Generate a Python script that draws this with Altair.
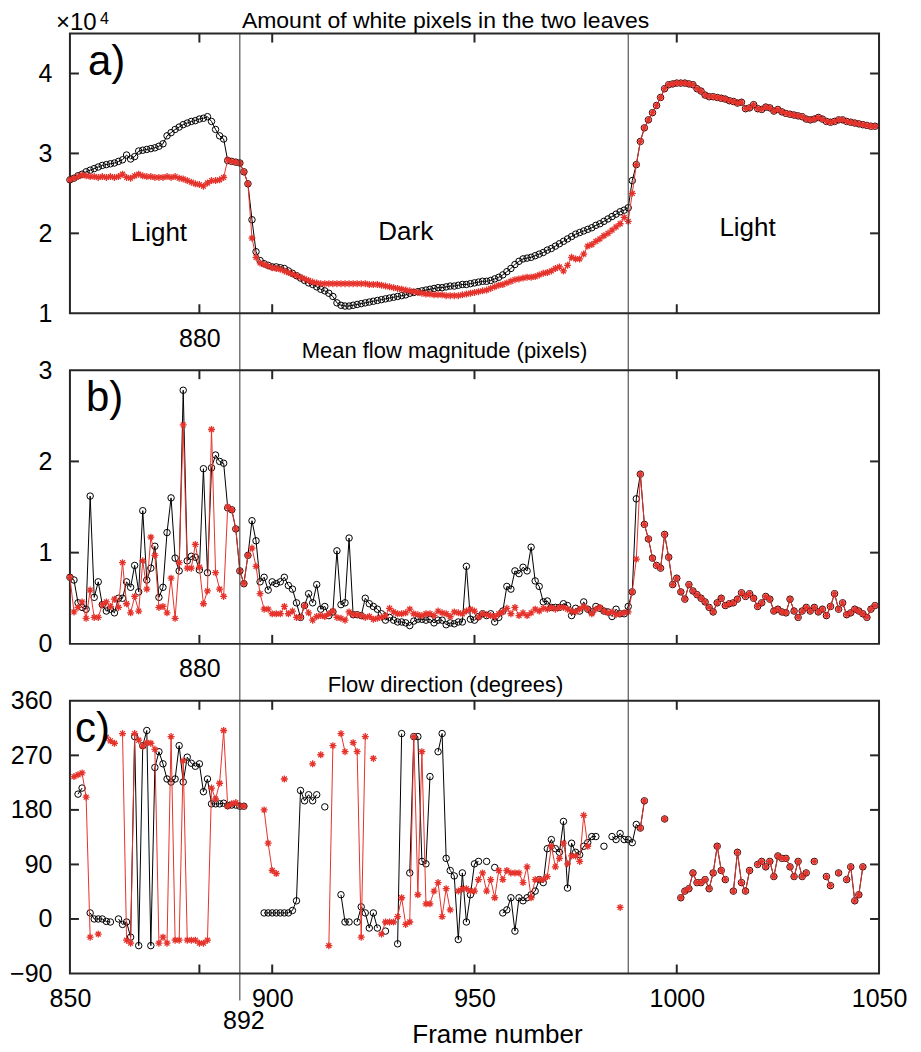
import altair as alt
import pandas as pd

N = None
FRAMES = list(range(850, 1050))

# ---------- panel a (x 10^4 white pixels), frames 850..992 then shared 993..1049
A_BLACK = [2.67, 2.69, 2.72, 2.74, 2.77, 2.79, 2.81, 2.83, 2.85, 2.86,
           2.87, 2.88, 2.90, 2.92, 2.98, 2.93, 2.96, 3.03, 3.04, 3.05,
           3.06, 3.07, 3.09, 3.12, 3.22, 3.26, 3.30, 3.33, 3.36, 3.38,
           3.40, 3.41, 3.43, 3.44, 3.46, 3.40, 3.30, 3.22, 3.18, 2.91,
           2.90, 2.89, 2.88,
           2.77, 2.62, 2.17, 1.77, 1.66, 1.62, 1.60, 1.58, 1.58, 1.57,
           1.56, 1.53, 1.50, 1.47, 1.44, 1.41, 1.38, 1.36, 1.33, 1.30,
           1.28, 1.25, 1.21, 1.13, 1.10, 1.09, 1.09, 1.10, 1.11, 1.12,
           1.13, 1.14, 1.15, 1.16, 1.17, 1.18, 1.19, 1.20, 1.21, 1.22,
           1.23, 1.25, 1.26, 1.27, 1.28, 1.29, 1.30, 1.31, 1.32, 1.32,
           1.33, 1.34, 1.34, 1.35, 1.36, 1.36, 1.37, 1.38, 1.39, 1.40,
           1.40, 1.41, 1.43, 1.45, 1.48, 1.52, 1.56, 1.61, 1.65, 1.68,
           1.69, 1.70, 1.72, 1.74, 1.76, 1.79, 1.81, 1.84, 1.87, 1.90,
           1.93, 1.96, 1.99, 2.01, 2.03, 2.05, 2.07, 2.10, 2.12, 2.15,
           2.18, 2.21, 2.24, 2.27, 2.29, 2.32, 2.66, 2.86, 3.15, 3.32]
A_RED = [2.67, 2.69, 2.71, 2.73, 2.72, 2.71, 2.71, 2.70, 2.71, 2.70,
         2.71, 2.70, 2.71, 2.74, 2.70, 2.69, 2.72, 2.74, 2.72, 2.71,
         2.71, 2.70, 2.70, 2.70, 2.71, 2.70, 2.71, 2.69, 2.68, 2.66,
         2.64, 2.62, 2.61, 2.59, 2.63, 2.66, 2.66, 2.67, 2.70, 2.92,
         2.90, 2.89, 2.88,
         2.77, 2.62, 1.94, 1.70, 1.63, 1.61, 1.59, 1.57, 1.56, 1.55,
         1.53, 1.51, 1.49, 1.47, 1.45, 1.43, 1.41, 1.39, 1.38, 1.37,
         1.37, 1.37, 1.37, 1.37, 1.37, 1.37, 1.37, 1.37, 1.37, 1.37,
         1.37, 1.36, 1.36, 1.36, 1.35, 1.34, 1.33, 1.32, 1.31, 1.30,
         1.29, 1.28, 1.27, 1.26, 1.25, 1.24, 1.24, 1.23, 1.23, 1.23,
         1.22, 1.22, 1.22, 1.22, 1.23, 1.24, 1.25, 1.26, 1.27, 1.28,
         1.29, 1.31, 1.33, 1.35, 1.36, 1.38, 1.40, 1.42, 1.43, 1.44,
         1.45, 1.45, 1.46, 1.48, 1.50, 1.51, 1.53, 1.56, 1.58, 1.53,
         1.60, 1.70, 1.68, 1.68, 1.74, 1.84, 1.86, 1.90, 1.93, 1.97,
         2.00, 2.04, 2.08, 2.12, 2.20, 2.15, 2.50, 2.86, 3.15, 3.32]
A_SHARED = [3.42, 3.51, 3.60, 3.70, 3.81, 3.86, 3.87, 3.88, 3.88, 3.88,
            3.87, 3.86, 3.81, 3.78, 3.73, 3.71, 3.71, 3.70, 3.69, 3.68,
            3.66, 3.65, 3.63, 3.64, 3.56, 3.57, 3.61, 3.56, 3.55, 3.58,
            3.57, 3.53, 3.55, 3.52, 3.50, 3.49, 3.48, 3.47, 3.46, 3.43,
            3.42, 3.43, 3.45, 3.43, 3.40, 3.39, 3.40, 3.42, 3.42, 3.40,
            3.39, 3.38, 3.37, 3.36, 3.35, 3.34, 3.34]

# ---------- panel b (mean flow magnitude)
B_BLACK = [0.73, 0.70, 0.45, 0.40, 0.38, 1.62, 0.51, 0.68, 0.43, 0.36,
           0.38, 0.34, 0.50, 0.50, 0.68, 0.62, 0.86, 0.57, 1.46, 0.70,
           0.83, 1.07, 0.51, 0.62, 1.22, 1.60, 0.94, 0.80, 2.78, 0.91,
           0.96, 0.95, 0.81, 1.92, 0.78, 1.93, 2.07, 2.00, 1.98, 1.49,
           1.47, 1.26, 0.80, 0.66, 0.97, 1.35, 1.13, 0.68, 0.73, 0.59,
           0.68, 0.66, 0.68, 0.73, 0.64, 0.60, 0.45, 0.29, 0.42, 0.55,
           0.45, 0.65, 0.38, 0.41, 0.31, 0.35, 1.02, 0.43, 0.45, 1.16,
           0.32, 0.32, 0.31, 0.50, 0.44, 0.41, 0.38, 0.33, 0.26, 0.29,
           0.26, 0.24, 0.24, 0.23, 0.20, 0.25, 0.27, 0.27, 0.26, 0.27,
           0.23, 0.26, 0.26, 0.21, 0.23, 0.22, 0.24, 0.24, 0.85, 0.27,
           0.26, 0.30, 0.33, 0.31, 0.33, 0.24, 0.29, 0.36, 0.63, 0.60,
           0.80, 0.77, 0.84, 0.80, 1.06, 0.69, 0.63, 0.46, 0.47, 0.40,
           0.40, 0.40, 0.44, 0.42, 0.31, 0.39, 0.36, 0.46, 0.38, 0.35,
           0.41, 0.39, 0.36, 0.35, 0.30, 0.38, 0.33, 0.33, 0.41, 0.57,
           1.59, 1.86, 1.31]
B_RED = [0.73, 0.35, 0.40, 0.46, 0.28, 0.59, 0.29, 0.29, 0.43, 0.46,
         0.41, 0.49, 0.40, 0.89, 0.44, 0.34, 0.52, 0.36, 0.91, 0.60,
         1.17, 0.97, 0.40, 0.41, 0.34, 0.72, 0.28, 0.89, 2.40, 0.83,
         0.83, 1.09, 0.84, 0.44, 0.58, 2.35, 0.78, 0.60, 0.52, 1.50,
         1.47, 1.26, 0.80, 0.66, 0.97, 1.05, 0.85, 0.55, 0.38, 0.38,
         0.33, 0.33, 0.33, 0.41, 0.33, 0.36, 0.29, 0.29, 0.42, 0.34,
         0.26, 0.30, 0.31, 0.30, 0.33, 0.36, 0.29, 0.28, 0.26, 0.35,
         0.32, 0.32, 0.31, 0.29, 0.30, 0.27, 0.28, 0.29, 0.31, 0.39,
         0.35, 0.33, 0.33, 0.34, 0.38, 0.33, 0.32, 0.31, 0.33, 0.33,
         0.31, 0.36, 0.34, 0.33, 0.30, 0.35, 0.34, 0.33, 0.36, 0.38,
         0.36, 0.29, 0.33, 0.32, 0.31, 0.30, 0.33, 0.35, 0.39, 0.33,
         0.40, 0.31, 0.34, 0.31, 0.34, 0.38, 0.36, 0.39, 0.38, 0.40,
         0.38, 0.40, 0.40, 0.38, 0.36, 0.35, 0.38, 0.41, 0.38, 0.33,
         0.38, 0.40, 0.36, 0.34, 0.35, 0.32, 0.33, 0.34, 0.35, 0.57,
         0.93, 1.86, 1.31]
B_SHARED = [1.15, 0.94, 0.86, 0.83, 1.20, 0.95, 0.65, 0.72, 0.57, 0.49,
            0.65, 0.58, 0.54, 0.50, 0.46, 0.40, 0.35, 0.45, 0.50, 0.42,
            0.44, 0.45, 0.49, 0.56, 0.52, 0.55, 0.50, 0.41, 0.45, 0.52,
            0.49, 0.36, 0.38, 0.35, 0.34, 0.49, 0.36, 0.29, 0.36, 0.40,
            0.36, 0.40, 0.35, 0.38, 0.31, 0.41, 0.55, 0.38, 0.45, 0.32,
            0.34, 0.38, 0.36, 0.33, 0.29, 0.38, 0.42]

# ---------- panel c (flow direction, degrees), N = missing
C_BLACK = [N, N, 206, 216, N, 10, 0, 0, 0, -4,
           -5, N, 0, -9, -5, -30, 301, -44, 286, 311,
           -44, 250, 276, 256, 231, 226, 231, 286, 226, 267,
           257, 252, 256, 210, 231, 190, 190, 190, 191, 187,
           188, 188, 186, 186, N, N, N, N, 10, 10,
           10, 10, 10, 10, 10, 14, 30, 212, 195, 205,
           195, 205, N, 185, N, N, N, 40, -5, -5,
           N, -5, 20, 10, -15, 10, -15, N, -20, N,
           N, -41, 306, N, 76, 301, 301, 95, 91, 235,
           N, 276, 306, 100, 80, 71, -34, 76, -5, 40,
           91, 95, N, 95, N, 85, N, 10, 15, 35,
           -20, 35, 30, 35, 40, 46, 65, 60, 116, 131,
           116, 110, 161, 51, 125, 110, 106, 120, 126, 136,
           136, N, 120, N, 136, 131, 141, 131, 131, 126,
           156, 150, 195]
C_RED = [N, 235, 238, 241, 201, -30, N, -25, N, 300,
         294, 290, N, 306, -35, -40, 306, 295, 285, 291,
         290, 280, -40, -30, -40, 301, -35, -35, 261, -35,
         -35, -35, -40, -40, -35, 216, 198, 224, 311, 186,
         190, 192, 187, 186, N, N, N, N, 180, 125,
         80, 75, N, 231, N, N, N, N, N, N,
         256, N, 271, N, -44, 286, N, 306, 276, N,
         291, 276, -30, 301, N, 265, N, -25, -5, -5,
         -5, 4, 35, -9, -5, 301, 40, 276, 25, 25,
         46, 60, 4, 50, 15, N, 46, 50, 50, 46,
         46, 65, 76, 46, 65, 35, 80, 65, 80, 76,
         76, 76, 60, 86, 35, 65, 65, 65, 70, 120,
         86, 100, 125, 91, 104, 104, 95, 171, 120, N,
         N, N, N, N, N, N, 19, N, N, N,
         N, 150, 195]
C_SHARED = [N, N, N, N, 165, N, N, N, 35, 46,
            50, 76, 60, 60, 65, 50, 76, 120, 80, 65,
            N, 46, 110, 60, 46, 80, N, 90, 95, 86,
            95, 70, 104, 100, 100, 86, 70, 95, 70, 76,
            N, 95, N, N, 70, 55, N, 76, N, 65,
            86, 30, 40, 86, N, N, N]

# ---------- axes / annotations
X_DOMAIN = [850, 1050]
X_INNER_TICKS = [882, 900, 950, 1000]
C_X_LABELS = [850, 900, 950, 1000, 1050]
AB_X_LABEL_AT = 882
AB_X_LABEL = "880"
V_LINES = [892, 988]
MARKED_FRAME = [892]

A_DOMAIN, A_LABELS, A_INNER = [1, 4.5], [1, 2, 3, 4], [2, 3, 4]
B_DOMAIN, B_LABELS, B_INNER = [0, 3], [0, 1, 2, 3], [1, 2]
C_DOMAIN, C_LABELS, C_INNER = [-90, 360], [-90, 0, 90, 180, 270, 360], [0, 90, 180, 270]

REGION_TEXT = ["Light", "Dark", "Light"]
REGION_X = [872, 933, 1017.5]
REGION_Y = [2.0, 2.02, 2.07]

TITLES = ["Amount of white pixels in the two leaves",
          "Mean flow magnitude (pixels)",
          "Flow direction (degrees)"]

# ---------- style
FONT = "Liberation Sans"
RED = "#e5322b"
FRAME = "#262626"
W = 810
HA, HB, HC = 280, 274, 273
GAP = 57
TICK = 9
LABEL_FS = 25
TITLE_FS = 22
ASTERISK = "M0,-1L0,1M-1,0L1,0M-0.7,-0.7L0.7,0.7M-0.7,0.7L0.7,-0.7"

XS = alt.Scale(domain=X_DOMAIN, nice=False, zero=False)


def yaxis(vals):
    return alt.Axis(values=vals, grid=False, domain=False, ticks=False,
                    labelFont=FONT, labelFontSize=LABEL_FS, labelColor="black",
                    labelPadding=18, labelFlush=False, labelOverlap=False,
                    format="d", title=None)


def xaxis(vals, expr=None):
    kw = dict(values=vals, grid=False, domain=False, ticks=False,
              labelFont=FONT, labelFontSize=LABEL_FS, labelColor="black",
              labelPadding=13, labelFlush=False, labelOverlap=False,
              format="d", title=None)
    if expr is not None:
        kw["labelExpr"] = expr
    return alt.Axis(**kw)


def text_layer(txt, x, y, size, align="center", baseline="alphabetic"):
    return alt.Chart(pd.DataFrame({"t": [txt]})).mark_text(
        font=FONT, fontSize=size, align=align, baseline=baseline, color="black"
    ).encode(text="t:N", x=alt.value(x), y=alt.value(y))


def panel(black, red, shared, ydom, ylabels, yinner, h, xax, rule_ext, title,
          title_x, title_y, title_fs, letter, letter_x, extra=()):
    df = pd.DataFrame({"frame": FRAMES, "black": black + shared, "red": red + shared})
    YS = alt.Scale(domain=ydom, nice=False, zero=False)
    YAX = yaxis(ylabels)

    def X(f):
        return alt.X(f, type="quantitative", scale=XS, axis=xax)

    def Y(f):
        return alt.Y(f, type="quantitative", scale=YS, axis=YAX)

    base = alt.Chart(df)
    layers = [
        base.mark_line(color="black", strokeWidth=1).encode(x=X("frame"), y=Y("black")),
        base.mark_point(shape="circle", filled=False, color="black", size=42,
                        strokeWidth=1, opacity=1).encode(x=X("frame"), y=Y("black")),
        base.mark_line(color=RED, strokeWidth=1).encode(x=X("frame"), y=Y("red")),
        base.mark_point(shape=ASTERISK, filled=False, color=RED, size=49,
                        strokeWidth=1.3, opacity=1).encode(x=X("frame"), y=Y("red")),
    ]
    for v, ext in zip(V_LINES, rule_ext):
        layers.append(alt.Chart(pd.DataFrame({"v": [v]})).mark_rule(
            color="#333333", strokeWidth=1).encode(
            x=X("v"), y=alt.value(0), y2=alt.value(h + ext)))
    tx = alt.Chart(pd.DataFrame({"v": X_INNER_TICKS}))
    ty = alt.Chart(pd.DataFrame({"v": yinner}))
    for y0, y1 in [(0, TICK), (h - TICK, h)]:
        layers.append(tx.mark_rule(color=FRAME, strokeWidth=2).encode(
            x=X("v"), y=alt.value(y0), y2=alt.value(y1)))
    for x0, x1 in [(0, TICK), (W - TICK, W)]:
        layers.append(ty.mark_rule(color=FRAME, strokeWidth=2).encode(
            y=Y("v"), x=alt.value(x0), x2=alt.value(x1)))
    for ex in extra:
        layers.append(ex(X, Y))
    layers.append(text_layer(title, title_x, title_y, title_fs))
    layers.append(text_layer(letter, letter_x, 41, 42, align="left"))
    return alt.layer(*layers).properties(width=W, height=h)


ab_expr = f"datum.value == {AB_X_LABEL_AT} ? '{AB_X_LABEL}' : ''"


def regions(X, Y):
    return alt.Chart(pd.DataFrame({"x": REGION_X, "y": REGION_Y, "t": REGION_TEXT})).mark_text(
        font=FONT, fontSize=26, color="black", align="center", baseline="middle").encode(
        x=X("x"), y=Y("y"), text="t:N")


def marked(X, Y):
    return alt.Chart(pd.DataFrame({"v": MARKED_FRAME})).mark_text(
        font=FONT, fontSize=LABEL_FS, color="black", align="center",
        baseline="alphabetic", dx=4).encode(
        x=X("v"), y=alt.value(HC + 56), text=alt.Text("v:Q", format="d"))


pa = panel(A_BLACK, A_RED, A_SHARED, A_DOMAIN, A_LABELS, A_INNER, HA,
           xaxis([AB_X_LABEL_AT], ab_expr), [GAP + 1, GAP + 1],
           TITLES[0], 376, -6, 23, "a)", 18, extra=(regions,))
pa = alt.layer(pa,
               text_layer("\u00d710", -14, -4, 24, align="left"),
               text_layer("4", 30, -10, 16, align="left")).properties(width=W, height=HA)

pb = panel(B_BLACK, B_RED, B_SHARED, B_DOMAIN, B_LABELS, B_INNER, HB,
           xaxis([AB_X_LABEL_AT], ab_expr), [GAP, GAP],
           TITLES[1], 375, -12, TITLE_FS, "b)", 16)

pc = panel(C_BLACK, C_RED, C_SHARED, C_DOMAIN, C_LABELS, C_INNER, HC,
           xaxis(C_X_LABELS), [27, 0],
           TITLES[2], 376, -9, TITLE_FS, "c)", 5, extra=(marked,))
pc = alt.layer(pc, text_layer("Frame number", 428, HC + 70, 26)).properties(width=W, height=HC)

chart = alt.vconcat(pa, pb, pc, spacing=GAP, bounds="flush").configure_view(
    stroke=FRAME, strokeWidth=2).properties(
    padding={"left": 0, "top": 0, "right": 5, "bottom": 5}, background="white")

chart.save("out.html", embed_options={"renderer": "svg", "actions": False})
